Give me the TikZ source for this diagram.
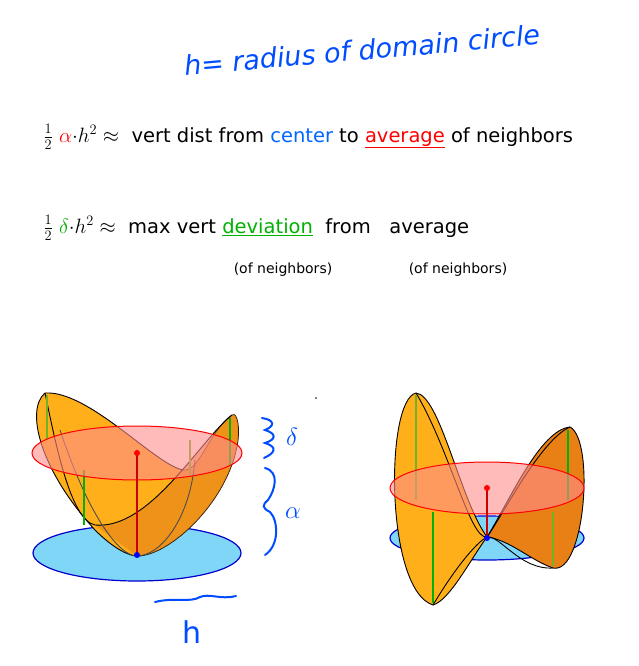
\documentclass[tikz,border=0pt]{standalone}
\usepackage{fontspec}
\setmainfont{DejaVu Sans}
\begin{document}
\begin{tikzpicture}[x=1pt,y=-1pt,
  txt/.style={anchor=west,font=\fontsize{19.5}{21}\selectfont},
  hand/.style={blue!70!cyan,line width=2pt,line cap=round},
  rim/.style={black,line width=0.9pt},
  grn/.style={green!70!black,line width=1.4pt},
  grnb/.style={green!40!brown,line width=1.4pt},
  surf/.style={fill=orange!70!yellow!90!white,draw=black,line width=0.9pt},
  surfd/.style={fill=orange!65!brown,draw=black,line width=0.9pt},
  reddisk/.style={fill=red!45,fill opacity=0.6,draw=red,line width=1pt},
  bluedisk/.style={fill=cyan!50,draw=blue!80!black,line width=1.2pt}]
\useasboundingbox (0,0) rectangle (639,666);
\fill[white] (0,0) rectangle (639,666);
% texts
\node[font=\fontsize{27}{30}\selectfont\itshape,text=blue!70!cyan,rotate=5] (title) at (362,50) {h= radius of domain circle};
\node[txt] (l1) at (40,137) {$\frac12$ {\color{red}$\alpha$}$\cdot h^2\approx$ \ vert dist from {\color{blue!60!cyan}center} to {\color{red}\underline{average}} of neighbors};
\node[txt] (l2) at (40,228) {$\frac12$ {\color{green!70!black}$\delta$}$\cdot h^2\approx$ \ max vert {\color{green!70!black}\underline{deviation}} \ from \ \ average};
\node[font=\fontsize{14}{16}\selectfont] (n1) at (283,270) {(of neighbors)};
\node[font=\fontsize{14}{16}\selectfont] (n2) at (458,270) {(of neighbors)};
% left figure
\draw[bluedisk] (137,553) ellipse (104 and 28);
\path[surf] (45,393) .. controls (25,410) and (40,470) .. (95,530) .. controls (115,550) and (130,556) .. (137,556) .. controls (170,556) and (230,500) .. (238,440) .. controls (240,420) and (235,412) .. (232,415) .. controls (210,430) and (200,470) .. (185,470) .. controls (160,470) and (90,390) .. (45,393);
\fill[orange!60!brown,opacity=0.6] (137,556) .. controls (170,556) and (230,500) .. (238,440) .. controls (240,420) and (235,412) .. (232,415) .. controls (200,440) and (150,530) .. (95,525) -- cycle;
\draw[rim] (45,393) .. controls (55,440) and (70,520) .. (95,525) .. controls (150,530) and (200,440) .. (232,415);
\draw[rim,black!70] (60,430) .. controls (90,520) and (120,556) .. (137,556) .. controls (160,556) and (190,520) .. (195,460);
\draw[grnb] (47,395) -- (47,440);
\draw[grn] (84,470) -- (84,525);
\draw[grn] (230,418) -- (230,465);
\draw[grnb] (190,440) -- (190,475);
\draw[reddisk] (137,453) ellipse (105 and 27);
\draw[red!80!black,line width=1.6pt] (137,453) -- (137,553);
\fill[red] (137,453) circle (3);
\fill[blue] (137,555) circle (3);
% braces & labels
\draw[hand] (262,418) .. controls (275,420) and (275,426) .. (265,430) .. controls (278,434) and (275,440) .. (265,443) .. controls (278,447) and (275,453) .. (264,458);
\node[font=\fontsize{24}{26}\selectfont,text=blue!70!cyan] (del) at (292,437) {$\delta$};
\draw[hand] (265,468) .. controls (280,472) and (275,490) .. (268,500) .. controls (262,505) and (262,508) .. (270,512) .. controls (278,520) and (280,545) .. (265,555);
\node[font=\fontsize{26}{28}\selectfont,text=blue!70!cyan] (alp) at (293,513) {$\alpha$};
\draw[hand] (155,602) .. controls (175,597) and (190,603) .. (200,597) .. controls (210,593) and (220,600) .. (236,596);
\node[font=\fontsize{30}{32}\selectfont,text=blue!70!cyan] (hh) at (192,632) {h};
\fill (316,398) circle (0.8);
% right figure
\draw[bluedisk] (487,538) ellipse (97 and 22);
\path[surf] (416,393) .. controls (385,400) and (385,590) .. (433,605) .. controls (450,600) and (470,560) .. (487,537) .. controls (460,500) and (440,395) .. (416,393);
\path[surfd] (570,427) .. controls (595,440) and (585,575) .. (553,568) .. controls (530,560) and (510,540) .. (487,537) .. controls (510,500) and (540,430) .. (570,427);
\draw[rim] (416,393) .. controls (450,450) and (470,540) .. (487,537) .. controls (500,535) and (520,570) .. (553,568);
\draw[rim] (433,605) .. controls (460,560) and (480,540) .. (487,537) .. controls (500,520) and (540,440) .. (570,427);
\draw[grnb] (416,395) -- (416,500);
\draw[grn] (433,512) -- (433,603);
\draw[grn] (568,430) -- (568,500);
\draw[grnb] (553,512) -- (553,566);
\draw[reddisk] (487,488) ellipse (97 and 26);
\draw[red!80!black,line width=1.4pt] (487,488) -- (487,537);
\fill[red] (487,488) circle (3);
\fill[blue] (487,538) circle (3);
\end{tikzpicture}
\end{document}
